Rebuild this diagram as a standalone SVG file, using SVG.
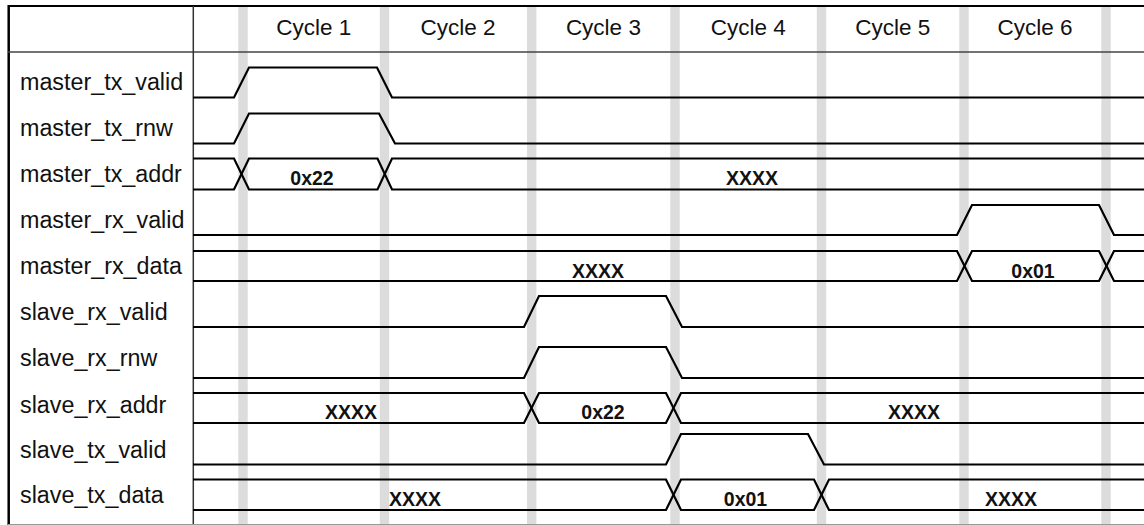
<svg xmlns="http://www.w3.org/2000/svg" width="1144" height="525" viewBox="0 0 1144 525">
<style>
.bar{fill:#dcdcdc}
.sig{fill:none;stroke:#000;stroke-width:2.2;stroke-linejoin:miter}
.lbl{font-family:"Liberation Sans",Arial,sans-serif;font-size:23.3px;fill:#111}
.hdr{font-family:"Liberation Sans",Arial,sans-serif;font-size:22.5px;fill:#111;text-anchor:middle}
.val{font-family:"Liberation Sans",Arial,sans-serif;font-size:19.5px;font-weight:bold;fill:#111;text-anchor:middle}
</style>
<rect width="1144" height="525" fill="#fff"/>
<g id="grid">
<rect class="bar" x="238.3" y="7" width="9.4" height="518"/>
<rect class="bar" x="379.8" y="7" width="9.4" height="518"/>
<rect class="bar" x="527" y="7" width="9.4" height="518"/>
<rect class="bar" x="670.3" y="7" width="9.4" height="518"/>
<rect class="bar" x="816.8" y="7" width="9.4" height="518"/>
<rect class="bar" x="959.3" y="7" width="9.4" height="518"/>
<rect class="bar" x="1101.3" y="7" width="9.4" height="518"/>
<line x1="8" y1="6" x2="1144" y2="6" stroke="#000" stroke-width="2.2"/>
<line x1="8.7" y1="5" x2="8.7" y2="525" stroke="#000" stroke-width="2.5"/>
<line x1="8" y1="52" x2="1144" y2="52" stroke="#444" stroke-width="1.5"/>
<line x1="193.3" y1="6" x2="193.3" y2="525" stroke="#333" stroke-width="1.5"/>
<line x1="8" y1="524.5" x2="1144" y2="524.5" stroke="#999" stroke-width="1"/>
</g>
<g id="header">
<text class="hdr" x="313.8" y="35">Cycle 1</text>
<text class="hdr" x="458" y="35">Cycle 2</text>
<text class="hdr" x="603.4" y="35">Cycle 3</text>
<text class="hdr" x="748.3" y="35">Cycle 4</text>
<text class="hdr" x="892.8" y="35">Cycle 5</text>
<text class="hdr" x="1035" y="35">Cycle 6</text>
</g>
<g id="master_tx_valid">
<text class="lbl" x="20" y="90">master_tx_valid</text>
<path class="sig" d="M193,97.5 H234 L249,67.5 H377 L392,97.5 H1144"/>
</g>
<g id="master_tx_rnw">
<text class="lbl" x="20" y="136">master_tx_rnw</text>
<path class="sig" d="M193,143.5 H234 L249,113.5 H379 L395,143.5 H1144"/>
</g>
<g id="master_tx_addr">
<text class="lbl" x="20" y="182">master_tx_addr</text>
<path class="sig" d="M193,158.5 H234 L249,189.5 H377.5 L392,158.5 H1144"/>
<path class="sig" d="M193,189.5 H234 L249,158.5 H377.5 L392,189.5 H1144"/>
<text class="val" x="312" y="184.5">0x22</text>
<text class="val" x="752" y="184.5">XXXX</text>
</g>
<g id="master_rx_valid">
<text class="lbl" x="20" y="228">master_rx_valid</text>
<path class="sig" d="M193,235 H957 L972,205 H1099 L1114,235 H1144"/>
</g>
<g id="master_rx_data">
<text class="lbl" x="20" y="274">master_rx_data</text>
<path class="sig" d="M193,251 H957 L972,281 H1099 L1114,251 H1144"/>
<path class="sig" d="M193,281 H957 L972,251 H1099 L1114,281 H1144"/>
<text class="val" x="598" y="277.5">XXXX</text>
<text class="val" x="1033" y="277.5">0x01</text>
</g>
<g id="slave_rx_valid">
<text class="lbl" x="20" y="320">slave_rx_valid</text>
<path class="sig" d="M193,327 H524 L539,296 H666 L682,327 H1144"/>
</g>
<g id="slave_rx_rnw">
<text class="lbl" x="20" y="366">slave_rx_rnw</text>
<path class="sig" d="M193,378 H524 L539,347 H666 L682,378 H1144"/>
</g>
<g id="slave_rx_addr">
<text class="lbl" x="20" y="413">slave_rx_addr</text>
<path class="sig" d="M193,393 H524 L539,423 H666 L681,393 H1144"/>
<path class="sig" d="M193,423 H524 L539,393 H666 L681,423 H1144"/>
<text class="val" x="351" y="419">XXXX</text>
<text class="val" x="603" y="419">0x22</text>
<text class="val" x="914" y="419">XXXX</text>
</g>
<g id="slave_tx_valid">
<text class="lbl" x="20" y="457.5">slave_tx_valid</text>
<path class="sig" d="M193,464.5 H666 L681,434 H808 L824,464.5 H1144"/>
</g>
<g id="slave_tx_data">
<text class="lbl" x="20" y="502.5">slave_tx_data</text>
<path class="sig" d="M193,479.5 H666 L681,510 H814 L829,479.5 H1144"/>
<path class="sig" d="M193,510 H666 L681,479.5 H814 L829,510 H1144"/>
<text class="val" x="415" y="506">XXXX</text>
<text class="val" x="745.5" y="506">0x01</text>
<text class="val" x="1011" y="506">XXXX</text>
</g>
</svg>
